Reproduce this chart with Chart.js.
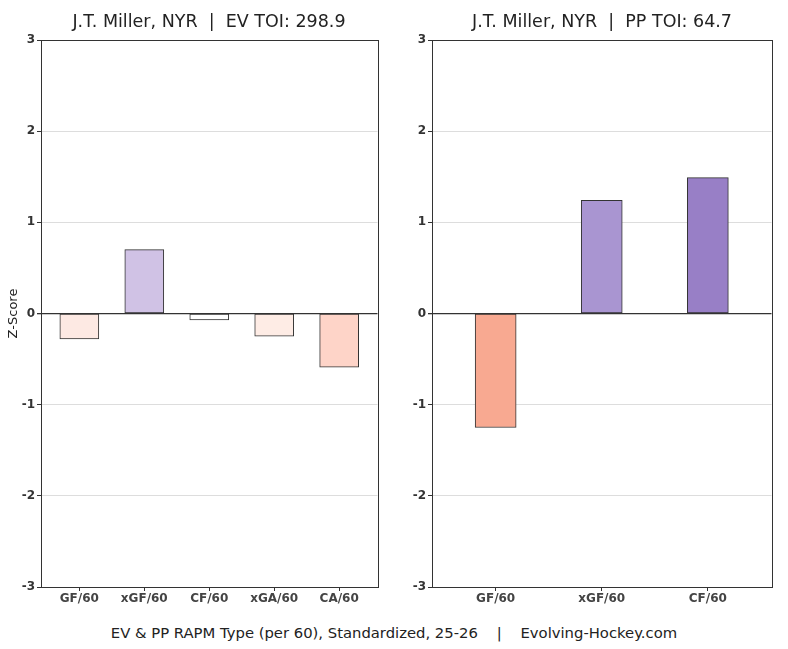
<!DOCTYPE html>
<html>
<head>
<meta charset="utf-8">
<script src="https://cdn.jsdelivr.net/npm/chart.js@4/dist/chart.umd.min.js"></script>
<style>
  html, body { margin:0; padding:0; background:#fff; width:788px; height:649px; overflow:hidden; font-family:"DejaVu Sans", sans-serif; }
  .wrap { position:absolute; top:0; width:394px; height:620px; }
  .title { position:absolute; top:11px; font-size:17.5px; color:#222; white-space:pre; text-align:center; width:400px; }
  .footer { position:absolute; top:624px; left:0; width:788px; text-align:center; font-size:14.8px; color:#222; white-space:pre; }
</style>
</head>
<body>
<div class="wrap" style="left:0"><canvas id="evChart"></canvas></div>
<div class="wrap" style="left:394px"><canvas id="ppChart"></canvas></div>
<div class="title" id="evTitle" style="left:9px"></div>
<div class="title" id="ppTitle" style="left:402px"></div>
<div class="footer" id="footer"></div>
<script>
// ---- data ----
const evTitle = "J.T. Miller, NYR  |  EV TOI: 298.9";
const ppTitle = "J.T. Miller, NYR  |  PP TOI: 64.7";
const footerText = "EV & PP RAPM Type (per 60), Standardized, 25-26    |    Evolving-Hockey.com";
const yAxisLabel = "Z-Score";
const yTicks = [-3, -2, -1, 0, 1, 2, 3];
const evCategories = ["GF/60", "xGF/60", "CF/60", "xGA/60", "CA/60"];
const evValues = [-0.28, 0.70, -0.07, -0.25, -0.59];
const ppCategories = ["GF/60", "xGF/60", "CF/60"];
const ppValues = [-1.25, 1.24, 1.49];

// ---- styles ----
const evColors = ["#fde9e3", "#d0c2e5", "#ffffff", "#feece5", "#fed4c8"];
const ppColors = ["#f8a991", "#a995d1", "#987fc6"];

document.getElementById('evTitle').textContent = evTitle;
document.getElementById('ppTitle').textContent = ppTitle;
document.getElementById('footer').textContent = footerText;

const frame = {
  id: 'frame',
  afterDraw(chart) {
    const a = chart.chartArea, c = chart.ctx;
    c.save();
    c.strokeStyle = '#333';
    c.lineWidth = 1;
    c.strokeRect(Math.round(a.left) + 0.5, Math.round(a.top) + 0.5, Math.round(a.right - a.left), Math.round(a.bottom - a.top));
    c.restore();
  }
};

function makeChart(id, cats, vals, colors, opts) {
  const n = cats.length;
  return new Chart(document.getElementById(id), {
    type: 'bar',
    data: {
      datasets: [{
        data: vals.map((v, i) => ({ x: i, y: v })),
        backgroundColor: colors,
        borderColor: '#333',
        borderWidth: 1,
        borderSkipped: false,
        barThickness: opts.barThickness
      }]
    },
    plugins: [frame],
    options: {
      responsive: false,
      animation: false,
      devicePixelRatio: 1,
      layout: { padding: { top: 40, right: 16.5, left: 0, bottom: 0 } },
      plugins: { legend: { display: false }, tooltip: { enabled: false } },
      scales: {
        x: {
          type: 'linear',
          offset: false,
          min: -opts.margin,
          max: n - 1 + opts.margin,
          afterBuildTicks: s => { s.ticks = cats.map((c, i) => ({ value: i })); },
          afterFit: s => { s.height = 33; },
          ticks: {
            callback: v => cats[v] ?? '',
            color: '#444',
            font: { family: 'DejaVu Sans', size: 12, weight: 'bold' },
            padding: 1,
            maxRotation: 0,
            autoSkip: false
          },
          grid: { offset: false, drawOnChartArea: false, drawTicks: true, tickLength: 4, color: '#333' },
          border: { display: false }
        },
        y: {
          min: -3, max: 3,
          afterBuildTicks: s => { s.ticks = yTicks.map(v => ({ value: v })); },
          afterFit: s => { s.width = opts.yWidth; },
          ticks: {
            color: '#333',
            font: { family: 'DejaVu Sans', size: 12, weight: 'bold' },
            padding: 2
          },
          title: {
            display: opts.showTitle,
            text: yAxisLabel,
            color: '#222',
            font: { family: 'DejaVu Sans', size: 13 },
            padding: { top: 6, bottom: 0 }
          },
          grid: {
            color: c => c.tick && c.tick.value === 0 ? '#333' : '#dddddd',
            lineWidth: c => c.tick && c.tick.value === 0 ? 1.3 : 1,
            tickColor: '#333',
            tickLength: 4
          },
          border: { display: false }
        }
      }
    }
  });
}

const ev = document.getElementById('evChart');
ev.width = 394; ev.height = 620;
const pp = document.getElementById('ppChart');
pp.width = 394; pp.height = 620;

makeChart('evChart', evCategories, evValues, evColors, { barThickness: 39, margin: 0.59, yWidth: 41, showTitle: true });
makeChart('ppChart', ppCategories, ppValues, ppColors, { barThickness: 41, margin: 0.6, yWidth: 38, showTitle: false });
</script>
</body>
</html>
